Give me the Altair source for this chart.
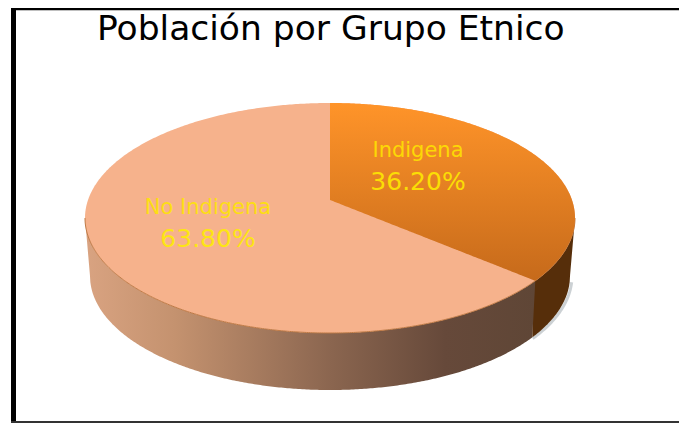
import numpy as np
import pandas as pd
import altair as alt

categories = ["Indigena", "No Indigena"]
shares = [36.2, 63.8]
label_lines = ["36.20%", "63.80%"]
title_text = "Población por Grupo Etnico"

# pie model, in page pixels
CX, CY, RX, RY = 330.0, 218.0, 245.0, 115.0
APEX_Y = 200.0
B_CY, B_RX, B_RY = 276.0, 240.0, 114.0
PW, PH = 671, 415

x_scale = alt.Scale(domain=[8, 8 + PW], range=[0, PW], nice=False, zero=False)
y_scale = alt.Scale(domain=[8, 8 + PH], range=[0, PH], nice=False, zero=False)
X = lambda f="x": alt.X(f"{f}:Q", scale=x_scale, axis=None)
Y = lambda f="y": alt.Y(f"{f}:Q", scale=y_scale, axis=None)

# perspective projection of the circular slice boundary
d = (APEX_Y - CY) / RY
theta = 2 * np.pi * shares[0] / 100
cx_, cy_ = np.sin(theta), -np.cos(theta)
den = d * cy_ + 1
end_x = CX + RX * cx_ * np.sqrt(1 - d * d) / den
end_y = CY + RY * (cy_ + d) / den


def half(xs, cy, rx, ry, sign):
    return cy + sign * ry * np.sqrt(np.clip(1 - ((xs - CX) / rx) ** 2, 0, 1))


t = np.linspace(-np.pi / 2, np.pi / 2, 361)
xs_all = CX + RX * np.sin(t)

# top face
top = pd.DataFrame({"x": xs_all, "y": half(xs_all, CY, RX, RY, -1), "y2": half(xs_all, CY, RX, RY, 1)})

# wedge
xs_w = np.unique(np.concatenate([xs_all[xs_all >= CX], np.linspace(CX, end_x, 60)]))
low_w = np.where(
    xs_w <= end_x,
    APEX_Y + (xs_w - CX) * (end_y - APEX_Y) / (end_x - CX),
    half(xs_w, CY, RX, RY, 1),
)
wedge = pd.DataFrame({"x": xs_w, "y": half(xs_w, CY, RX, RY, -1), "y2": low_w})


def wall_bottom(xs):
    out = half(xs, B_CY, B_RX, B_RY, 1)
    outside = np.abs(xs - CX) > B_RX
    frac = (RX - np.abs(xs - CX)) / (RX - B_RX)
    out[outside] = (CY + (B_CY - CY) * frac)[outside]
    return out


bot_x = end_x - 3
# light wall (left of slice edge)
xs_l = np.unique(np.concatenate([xs_all[xs_all <= end_x], [end_x]]))
low_l = wall_bottom(xs_l.copy())
slant = end_y + (bot_x - xs_l + 3) * (half(np.array([bot_x]), B_CY, B_RX, B_RY, 1)[0] - end_y) / 3
low_l = np.where(xs_l > bot_x, np.minimum(low_l, slant), low_l)
wall_l = pd.DataFrame({"x": xs_l, "y": half(xs_l, CY, RX, RY, 1), "y2": low_l})
# dark wall
xs_r = np.unique(np.concatenate([xs_all[xs_all >= bot_x], [bot_x]]))
wall_r = pd.DataFrame({"x": xs_r, "y": half(xs_r, CY, RX, RY, 1), "y2": wall_bottom(xs_r.copy())})

# shadow along the right of the wall
xs_s = xs_all[(xs_all > 530) & (xs_all <= CX + B_RX)]
shadow = pd.DataFrame({"x": xs_s + 2.0, "y": half(xs_s, B_CY, B_RX, B_RY, 1)})
rim = pd.DataFrame({"x": xs_all, "y": half(xs_all, CY, RX, RY, 1)})

wall_grad = alt.Gradient(
    gradient="linear", x1=0, x2=1, y1=0, y2=0,
    stops=[
        alt.GradientStop(color="#d9a381", offset=0.0),
        alt.GradientStop(color="#c4926f", offset=0.2),
        alt.GradientStop(color="#8a654f", offset=0.55),
        alt.GradientStop(color="#66493a", offset=0.8),
        alt.GradientStop(color="#5f4636", offset=1.0),
    ],
)
wedge_grad = alt.Gradient(
    gradient="linear", x1=0, x2=0, y1=0, y2=1,
    stops=[
        alt.GradientStop(color="#ff9429", offset=0.0),
        alt.GradientStop(color="#c66a1b", offset=1.0),
    ],
)


def area(df, fill):
    return alt.Chart(df).mark_area(fill=fill, stroke=None, interpolate="linear").encode(
        x=X(), y=Y(), y2="y2:Q"
    )


labels = pd.DataFrame({
    "name": categories,
    "pct": label_lines,
    "x": [418.0, 208.0],
    "y": [151.0, 208.0],
    "y_pct": [182.0, 239.0],
})
FONT = "DejaVu Sans"
txt_name = alt.Chart(labels).mark_text(
    font=FONT, fontSize=21, color="#ffe600", opacity=0.85, baseline="middle", align="center"
).encode(x=X(), y=Y(), text="name:N")
txt_pct = alt.Chart(labels).mark_text(
    font=FONT, fontSize=25, color="#ffee00", opacity=0.85, baseline="middle", align="center"
).encode(x=X(), y=Y("y_pct"), text="pct:N")

line_shadow = alt.Chart(shadow).mark_line(color="#9aa3aa", strokeWidth=3, opacity=0.5).encode(x=X(), y=Y())
line_rim = alt.Chart(rim).mark_line(color="#c07a45", strokeWidth=1).encode(x=X(), y=Y())

# frame (page pixels minus the 8px page margin)
frame_left = alt.Chart(pd.DataFrame({"a": [0]})).mark_rule(color="#000000", strokeWidth=5).encode(
    x=alt.value(5.5), y=alt.value(0), y2=alt.value(PH)
)
frame_top = alt.Chart(pd.DataFrame({"a": [0]})).mark_rule(color="#000000", strokeWidth=2.5).encode(
    x=alt.value(3), x2=alt.value(PW), y=alt.value(1)
)
frame_bottom = alt.Chart(pd.DataFrame({"a": [0]})).mark_rule(color="#333333", strokeWidth=2).encode(
    x=alt.value(3), x2=alt.value(PW), y=alt.value(PH - 1)
)

chart = alt.layer(
    frame_left, frame_top, frame_bottom,
    line_shadow,
    area(wall_r, "#562e0a"),
    area(wall_l, wall_grad),
    area(top, "#f6b28c"),
    line_rim,
    area(wedge, wedge_grad),
    txt_name, txt_pct,
).properties(
    width=PW,
    height=PH,
    padding=0,
    autosize=alt.AutoSizeParams(type="none"),
    background="#ffffff",
    title=alt.TitleParams(
        text=title_text, font="DejaVu Sans", fontSize=34.5, fontWeight="normal", color="#000000",
        anchor="start", frame="group", dx=89, dy=69, offset=0, baseline="alphabetic",
    ),
).configure_view(stroke=None)

chart.save("out.html", embed_options={"renderer": "svg", "actions": False})
